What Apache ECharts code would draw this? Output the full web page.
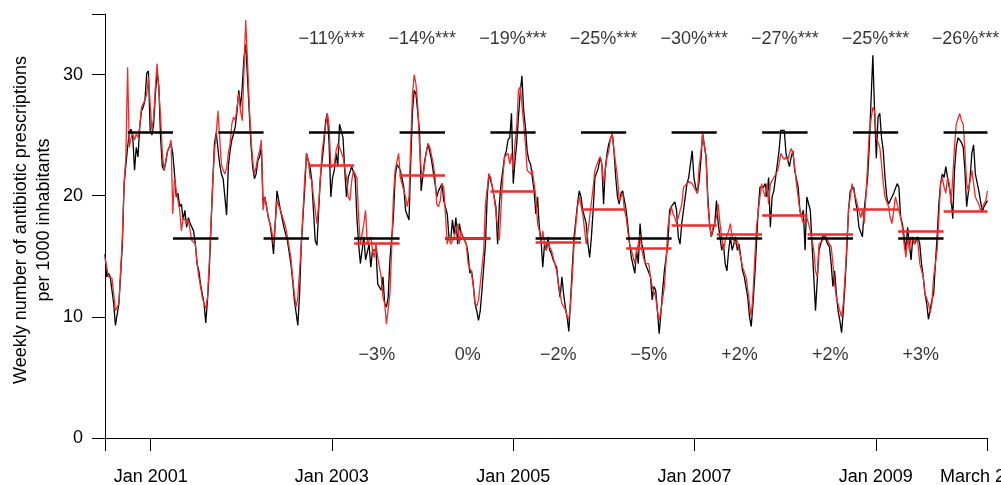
<!DOCTYPE html>
<html><head><meta charset="utf-8">
<script src="https://cdn.jsdelivr.net/npm/echarts@6/dist/echarts.min.js"></script>
<style>html,body{margin:0;padding:0;background:#fff}#c{width:1001px;height:485px}</style>
</head><body><div id="c"></div><script>
// x values are week numbers counted from startDate
const startDate = '2000-07-01';
const axisEndDate = '2010-03-27';
const tickDates = ['2000-07-01','2001-01-01','2003-01-01','2005-01-01','2007-01-01','2009-01-01','2010-03-27'];
const tickLabels = ['', 'Jan 2001', 'Jan 2003', 'Jan 2005', 'Jan 2007', 'Jan 2009', 'March 2010'];
const yTicks = [0, 10, 20, 30, 35];
const yTickLabels = [0, 10, 20, 30];
const yTitle = ['Weekly number of antibiotic prescriptions', 'per 1000 inhabitants'];

const blackWeekly = [[0,15.2],[1,13.3],[2,13.6],[3,13.3],[5,11.1],[6,9.3],[8,11.1],[10,16.0],[11,21.0],[13,24.0],[14,25.2],[15,25.5],[16,24.8],[17,22.1],[18,24.0],[19,23.2],[20,25.7],[21,27.0],[22,27.3],[23,27.9],[24,30.1],[25,30.3],[26,25.4],[27,25.0],[28,25.9],[29,28.4],[30,30.2],[31,29.0],[32,24.8],[33,22.4],[34,22.1],[35,22.8],[36,23.7],[37,24.0],[38,24.3],[39,23.5],[40,21.8],[41,19.9],[42,20.2],[43,19.1],[44,19.3],[45,18.0],[46,18.8],[47,17.4],[48,18.2],[49,17.7],[50,17.6],[51,17.1],[52,16.0],[53,14.4],[54,13.8],[55,12.7],[56,11.9],[57,11.1],[58,9.5],[59,11.4],[60,13.8],[61,17.4],[62,21.0],[63,24.3],[64,25.2],[65,25.1],[66,22.6],[67,21.8],[68,21.4],[69,19.9],[70,18.4],[71,22.4],[72,23.7],[73,24.6],[74,25.1],[75,25.7],[76,27.0],[77,28.7],[78,27.3],[79,29.0],[80,31.4],[81,32.5],[82,29.8],[83,27.0],[84,24.3],[85,22.4],[86,21.4],[87,21.8],[88,22.9],[89,23.2],[90,24.0],[91,19.3],[92,19.9],[93,19.1],[94,18.2],[95,17.7],[96,16.6],[97,15.2],[98,17.8],[99,20.4],[100,19.6],[101,18.8],[103,17.4],[105,16.3],[107,14.4],[108,13.0],[109,11.4],[111,9.3],[112,11.9],[113,16.0],[115,20.7],[116,23.5],[117,22.9],[118,22.4],[119,21.3],[120,18.8],[121,16.3],[122,15.9],[123,18.8],[124,21.5],[125,22.9],[126,24.3],[127,26.2],[128,26.8],[129,24.3],[130,19.9],[131,21.5],[132,22.1],[133,23.5],[134,22.4],[135,25.9],[137,24.8],[138,22.1],[139,19.9],[140,21.5],[142,22.4],[144,21.5],[145,18.2],[146,16.0],[147,14.4],[149,16.6],[150,14.7],[152,16.0],[153,14.1],[154,15.5],[156,15.5],[157,12.7],[159,12.2],[160,13.3],[161,11.1],[162,10.8],[163,11.6],[164,14.7],[166,18.2],[167,21.5],[168,22.6],[169,22.5],[170,22.1],[172,20.7],[173,18.8],[175,18.0],[176,22.9],[177,27.0],[178,28.7],[179,28.4],[181,25.4],[182,20.4],[184,22.9],[186,24.3],[187,24.3],[188,22.9],[190,21.0],[191,19.9],[192,20.4],[194,21.0],[195,19.6],[197,18.5],[198,16.6],[199,16.3],[200,18.0],[201,16.8],[202,18.2],[203,16.0],[204,17.7],[205,16.9],[207,16.3],[208,16.0],[209,15.2],[210,13.6],[211,13.8],[212,12.7],[213,11.1],[214,10.5],[215,9.7],[216,10.5],[217,12.2],[219,16.0],[220,19.9],[221,21.8],[222,21.8],[223,20.7],[225,19.1],[226,16.0],[227,19.3],[228,21.0],[230,23.2],[231,23.7],[232,24.6],[233,24.8],[234,26.8],[235,21.0],[236,22.9],[237,24.3],[238,26.5],[239,28.5],[240,29.9],[241,27.0],[242,25.7],[243,23.7],[244,22.9],[245,22.6],[246,21.5],[247,20.4],[248,18.5],[249,19.9],[250,17.4],[251,16.3],[252,14.1],[253,16.0],[254,15.5],[255,16.6],[256,15.5],[257,15.2],[258,14.7],[260,14.1],[261,12.7],[262,11.6],[263,13.3],[264,11.9],[265,10.8],[266,10.0],[267,8.8],[268,11.4],[269,14.1],[270,16.6],[272,19.3],[273,20.4],[274,19.9],[275,18.8],[277,17.7],[278,16.0],[279,14.9],[280,16.6],[281,18.8],[282,21.5],[284,22.3],[285,23.2],[286,22.6],[287,19.3],[288,22.3],[289,23.5],[290,24.3],[292,25.1],[293,23.7],[294,21.5],[295,19.9],[296,19.3],[297,20.2],[298,20.4],[299,19.6],[300,18.8],[301,17.5],[302,16.0],[303,14.9],[305,13.6],[306,15.5],[307,14.4],[308,17.7],[309,16.0],[310,15.5],[311,14.4],[312,14.4],[314,13.3],[315,11.4],[316,12.5],[317,12.2],[318,10.5],[319,8.6],[320,10.3],[321,12.2],[322,13.8],[324,16.0],[325,18.8],[326,19.1],[328,19.5],[329,18.8],[330,16.6],[331,16.0],[332,17.7],[333,18.8],[334,19.9],[335,21.0],[336,21.5],[338,23.7],[339,21.5],[340,20.7],[341,20.2],[342,21.2],[343,22.9],[344,25.1],[346,23.2],[347,19.9],[348,17.7],[349,16.6],[350,16.6],[351,17.7],[352,19.6],[353,17.7],[354,16.6],[355,15.5],[356,16.0],[357,14.4],[358,13.8],[359,15.5],[360,16.6],[361,15.5],[362,16.0],[363,16.6],[364,15.5],[365,16.0],[366,14.9],[367,13.8],[368,13.3],[370,11.6],[371,10.0],[372,9.2],[373,11.1],[374,13.3],[375,16.0],[376,18.8],[377,20.7],[379,20.7],[380,21.0],[381,19.9],[382,21.5],[383,17.4],[384,19.9],[385,20.4],[386,21.5],[387,22.6],[388,23.7],[389,25.4],[390,25.5],[391,25.4],[392,23.5],[393,23.5],[394,22.4],[395,23.2],[396,23.7],[397,22.1],[399,20.7],[400,18.8],[401,18.2],[402,18.8],[403,15.5],[404,19.9],[406,18.8],[407,16.0],[408,13.3],[409,10.5],[411,15.5],[412,16.0],[413,16.6],[414,16.8],[416,16.0],[417,15.8],[418,14.4],[419,12.5],[420,13.8],[421,11.9],[422,10.5],[423,9.7],[424,8.7],[425,10.5],[426,12.7],[427,15.5],[428,18.8],[429,20.4],[431,20.7],[432,19.6],[433,18.8],[434,17.4],[436,16.6],[437,18.8],[439,21.5],[440,24.3],[441,28.0],[442,31.6],[443,27.0],[444,23.1],[445,26.5],[446,26.8],[447,24.8],[448,23.7],[449,21.5],[450,19.9],[451,19.3],[452,19.3],[454,20.2],[456,21.0],[457,20.7],[458,18.2],[459,17.7],[460,16.6],[461,15.5],[462,17.4],[463,16.0],[464,14.7],[465,16.6],[466,16.0],[468,16.6],[469,16.0],[470,14.4],[471,13.3],[472,11.9],[473,11.1],[474,9.8],[476,11.4],[477,11.9],[478,14.4],[479,16.6],[480,19.3],[481,21.0],[482,21.8],[483,21.5],[484,22.4],[485,21.5],[487,19.9],[488,18.1],[489,22.1],[490,24.0],[491,24.8],[493,24.4],[494,24.0],[495,22.1],[496,19.1],[498,21.5],[499,23.5],[500,24.2],[501,21.8],[503,20.4],[505,18.7],[506,19.1],[508,19.6]];

const redWeekly = [[0,14.9],[2,13.3],[4,13.2],[5,11.9],[6,10.5],[8,11.1],[9,13.8],[10,16.6],[11,21.0],[12,23.2],[13,30.6],[14,24.0],[15,24.8],[16,25.1],[17,24.6],[18,25.1],[19,24.8],[20,25.7],[21,27.3],[22,27.6],[23,27.9],[24,28.4],[25,29.8],[26,27.6],[27,25.4],[28,26.5],[29,29.0],[30,30.9],[31,31.0],[32,26.5],[33,23.5],[34,22.1],[35,22.9],[36,23.7],[37,24.0],[38,24.6],[39,18.5],[40,21.5],[41,20.4],[42,19.6],[43,18.8],[44,17.1],[45,18.2],[46,18.0],[47,17.7],[48,18.0],[49,17.1],[50,16.3],[51,16.3],[52,16.0],[53,14.4],[54,13.3],[55,12.5],[56,11.6],[57,11.1],[58,10.7],[59,11.6],[60,14.4],[61,17.7],[62,21.0],[63,23.7],[64,25.1],[65,27.0],[66,24.8],[67,22.6],[68,22.1],[69,21.8],[70,22.3],[71,23.5],[72,24.3],[73,25.9],[74,26.5],[75,26.2],[76,27.3],[77,28.4],[78,27.0],[79,26.2],[80,30.3],[81,34.5],[82,31.2],[83,27.6],[84,24.8],[85,22.9],[86,21.8],[87,22.4],[88,23.2],[89,23.7],[90,24.6],[91,18.8],[92,19.9],[93,19.1],[94,18.2],[95,17.7],[96,17.1],[97,16.0],[98,17.7],[99,19.6],[100,19.2],[101,18.8],[104,17.4],[107,14.9],[108,13.3],[109,11.9],[110,10.8],[111,11.6],[113,16.0],[115,21.5],[116,23.5],[117,22.9],[118,21.5],[119,21.3],[120,19.9],[121,18.8],[122,17.7],[123,19.3],[124,21.5],[125,23.7],[126,24.8],[128,26.8],[129,25.7],[130,22.3],[132,22.6],[133,23.7],[134,24.3],[135,24.0],[137,23.2],[138,22.3],[139,21.5],[140,19.9],[141,19.6],[142,21.2],[143,22.1],[145,21.5],[146,18.2],[147,16.0],[149,17.7],[150,18.8],[151,16.0],[153,16.6],[154,15.5],[155,14.9],[156,16.0],[157,14.9],[159,13.3],[160,11.6],[161,11.1],[162,9.4],[164,11.9],[165,15.5],[166,19.9],[167,22.1],[169,23.5],[170,21.5],[171,21.5],[173,19.9],[174,19.1],[175,19.9],[176,24.3],[177,28.4],[178,30.0],[179,29.2],[180,27.5],[181,24.3],[182,22.1],[183,21.5],[185,23.7],[186,24.3],[187,24.0],[189,22.6],[190,21.5],[191,19.3],[192,19.1],[193,19.6],[194,21.0],[195,20.7],[197,16.0],[198,16.6],[199,16.0],[201,16.6],[203,17.7],[204,16.0],[205,17.1],[206,16.6],[208,16.0],[209,14.4],[211,13.6],[212,12.5],[213,11.1],[214,10.9],[215,11.4],[216,12.7],[218,15.5],[219,19.3],[221,21.8],[222,21.5],[224,19.9],[225,19.9],[226,17.4],[227,16.3],[228,19.1],[229,21.5],[230,23.2],[232,23.5],[233,22.6],[234,23.5],[235,22.1],[236,24.3],[237,25.7],[238,28.7],[239,29.0],[240,27.6],[242,24.3],[243,22.1],[245,21.8],[246,22.1],[247,21.0],[248,19.9],[249,17.7],[250,17.1],[251,16.0],[252,17.1],[253,16.0],[254,15.5],[255,16.0],[257,15.5],[258,14.9],[260,13.8],[261,12.7],[263,11.1],[265,10.6],[266,10.0],[267,9.8],[268,11.1],[269,13.3],[270,16.0],[272,19.1],[273,19.9],[274,19.9],[275,18.5],[277,16.0],[279,18.2],[281,20.7],[282,22.1],[284,22.9],[285,23.2],[286,22.6],[287,21.0],[289,23.2],[290,23.7],[291,24.8],[292,25.1],[293,23.7],[295,21.5],[296,19.6],[297,19.9],[298,20.2],[299,18.8],[300,18.2],[301,17.0],[302,16.0],[303,15.5],[305,14.4],[306,15.5],[307,16.0],[308,16.8],[309,15.5],[310,14.9],[311,14.4],[313,14.4],[314,13.3],[315,12.5],[317,11.6],[318,10.5],[319,9.7],[320,10.5],[322,12.5],[323,14.7],[324,17.4],[326,19.1],[327,18.5],[328,18.2],[329,17.7],[330,18.2],[332,19.3],[333,20.7],[335,21.0],[336,21.2],[338,21.0],[339,20.7],[341,20.2],[342,22.4],[343,23.5],[344,25.1],[346,23.2],[347,19.3],[348,17.7],[349,16.6],[350,17.4],[352,18.2],[353,19.3],[354,17.7],[355,16.6],[356,15.5],[357,16.3],[359,17.1],[360,17.7],[361,16.6],[363,16.0],[364,16.3],[365,15.5],[366,14.9],[367,14.1],[369,13.3],[370,12.2],[371,11.1],[372,10.0],[373,11.9],[374,14.7],[375,17.4],[377,19.9],[378,21.0],[379,20.4],[380,19.9],[381,21.0],[382,19.3],[383,21.0],[385,21.5],[386,21.5],[387,22.0],[388,22.6],[389,23.5],[390,23.2],[391,23.0],[392,23.2],[393,22.9],[394,23.5],[395,23.9],[396,23.5],[397,22.4],[398,21.0],[400,18.8],[401,18.2],[402,17.7],[404,18.2],[405,17.7],[406,17.1],[408,15.5],[409,13.8],[410,13.3],[411,16.0],[413,16.3],[414,16.8],[415,16.6],[417,16.0],[418,15.8],[419,14.4],[420,12.7],[421,11.6],[423,10.5],[424,10.0],[425,11.1],[426,13.3],[427,16.0],[428,18.8],[430,21.0],[431,20.4],[432,19.9],[433,19.3],[435,18.2],[436,18.8],[437,17.7],[438,19.9],[439,22.6],[440,25.4],[442,27.3],[443,27.0],[444,24.8],[446,24.0],[447,22.6],[448,21.0],[449,19.9],[451,19.1],[452,18.2],[453,17.7],[454,18.8],[455,19.9],[456,19.3],[458,18.2],[459,17.4],[460,16.0],[461,14.9],[462,16.6],[463,15.5],[464,16.6],[466,16.0],[467,16.6],[468,16.0],[469,14.4],[471,13.3],[472,11.9],[474,11.1],[475,10.3],[476,11.1],[477,13.3],[479,15.5],[480,18.2],[481,21.0],[482,21.5],[483,20.7],[484,20.2],[485,21.5],[486,21.0],[487,19.3],[488,21.5],[489,24.0],[490,25.9],[492,26.8],[493,26.2],[494,25.9],[495,23.7],[496,21.0],[497,20.4],[499,22.1],[500,21.0],[501,19.9],[503,19.3],[504,18.8],[505,18.8],[507,19.6],[508,20.4]];

// seasons: winter = Oct-Mar, summer = Apr-Sep
const winterStartYears = [2000, 2001, 2002, 2003, 2004, 2005, 2006, 2007, 2008, 2009];
const summerYears = [2001, 2002, 2003, 2004, 2005, 2006, 2007, 2008, 2009];
const refWinterLevel = 25.2;
const refSummerLevel = 16.5;
const redWinterYears = [2002, 2003, 2004, 2005, 2006, 2007, 2008, 2009];
const redWinterLevels = [22.5, 21.65, 20.35, 18.85, 17.6, 18.35, 18.9, 18.7];
const winterChanges = ['−11%***', '−14%***', '−19%***', '−25%***', '−30%***', '−27%***', '−25%***', '−26%***'];
const redSummerYears = [2003, 2004, 2005, 2006, 2007, 2008, 2009];
const redSummerLevels = [16.1, 16.5, 16.15, 15.7, 16.85, 16.85, 17.05];
const summerChanges = ['−3%', '0%', '−2%', '−5%', '+2%', '+2%', '+3%'];

const WEEK = 7 * 86400000;
const weekOf = d => (Date.parse(d + 'T00:00:00Z') - Date.parse(startDate + 'T00:00:00Z')) / WEEK;
const xMax = weekOf(axisEndDate);
const winterSpan = y => [weekOf(y + '-10-01'), Math.min(weekOf((y + 1) + '-04-01'), xMax)];
const summerSpan = y => [weekOf(y + '-04-01'), weekOf(y + '-10-01')];

const seg = (span, v) => ({ coords: [[span[0], v], [span[1], v]] });
const blackSegs = winterStartYears.map(y => seg(winterSpan(y), refWinterLevel))
  .concat(summerYears.map(y => seg(summerSpan(y), refSummerLevel)));
const redSegs = redWinterYears.map((y, i) => seg(winterSpan(y), redWinterLevels[i]))
  .concat(redSummerYears.map((y, i) => seg(summerSpan(y), redSummerLevels[i])));

const TOP_TEXT_Y = 32.95, BOTTOM_TEXT_Y = 6.87;
const mid = s => (s[0] + s[1]) / 2;
const annot = redWinterYears.map((y, i) => ({ value: [mid(winterSpan(y)), TOP_TEXT_Y], name: winterChanges[i] }))
  .concat(redSummerYears.map((y, i) => ({ value: [mid(summerSpan(y)), BOTTOM_TEXT_Y], name: summerChanges[i] })));

const FONT = 'Liberation Sans, Arial, Helvetica, sans-serif';
const RED = '#ee2c2c';
const tickWeeks = tickDates.map(weekOf);

const chart = echarts.init(document.getElementById('c'), null, { renderer: 'canvas' });
chart.setOption({
  animation: false,
  backgroundColor: '#fff',
  grid: { left: 105, top: 14, width: 882.5, height: 424, containLabel: false, outerBoundsMode: 'none' },
  xAxis: {
    type: 'value', min: 0, max: xMax,
    axisLine: { show: true, lineStyle: { color: '#000', width: 1 } },
    axisTick: { show: true, customValues: tickWeeks, length: 13, lineStyle: { color: '#000', width: 1 } },
    axisLabel: {
      show: true, customValues: tickWeeks.slice(1), margin: 30, hideOverlap: false,
      color: '#000', fontSize: 18, fontFamily: FONT,
      formatter: v => { const i = tickWeeks.findIndex(t => Math.abs(t - v) < 1e-6); return i >= 0 ? tickLabels[i] : ''; }
    },
    splitLine: { show: false }
  },
  yAxis: {
    type: 'value', min: 0, max: 35,
    axisLine: { show: true, lineStyle: { color: '#000', width: 1 } },
    axisTick: { show: true, customValues: yTicks, length: 13, lineStyle: { color: '#000', width: 1 } },
    axisLabel: { show: true, customValues: yTickLabels, margin: 22, color: '#000', fontSize: 18, fontFamily: FONT },
    splitLine: { show: false }
  },
  graphic: [{
    type: 'text', x: 33, y: 220, rotation: Math.PI / 2,
    style: { text: yTitle.join('\n'), fontSize: 18, fontFamily: FONT, fill: '#000', align: 'center', verticalAlign: 'middle', lineHeight: 23 }
  }],
  series: [
    { type: 'line', data: blackWeekly, showSymbol: false, symbol: 'none', lineStyle: { color: '#000', width: 1.3 }, z: 2, silent: true },
    { type: 'line', data: redWeekly, showSymbol: false, symbol: 'none', lineStyle: { color: RED, width: 1.3 }, z: 3, silent: true },
    { type: 'lines', coordinateSystem: 'cartesian2d', data: blackSegs, lineStyle: { color: '#000', width: 2.6, opacity: 1 }, z: 4, silent: true },
    { type: 'lines', coordinateSystem: 'cartesian2d', data: redSegs, lineStyle: { color: RED, width: 2.6, opacity: 1 }, z: 5, silent: true },
    { type: 'scatter', data: annot, symbolSize: 1, itemStyle: { color: 'rgba(0,0,0,0)' }, z: 6, silent: true,
      label: { show: true, position: 'inside', formatter: '{b}', color: '#000', fontSize: 18, fontFamily: FONT } }
  ]
});
</script></body></html>
